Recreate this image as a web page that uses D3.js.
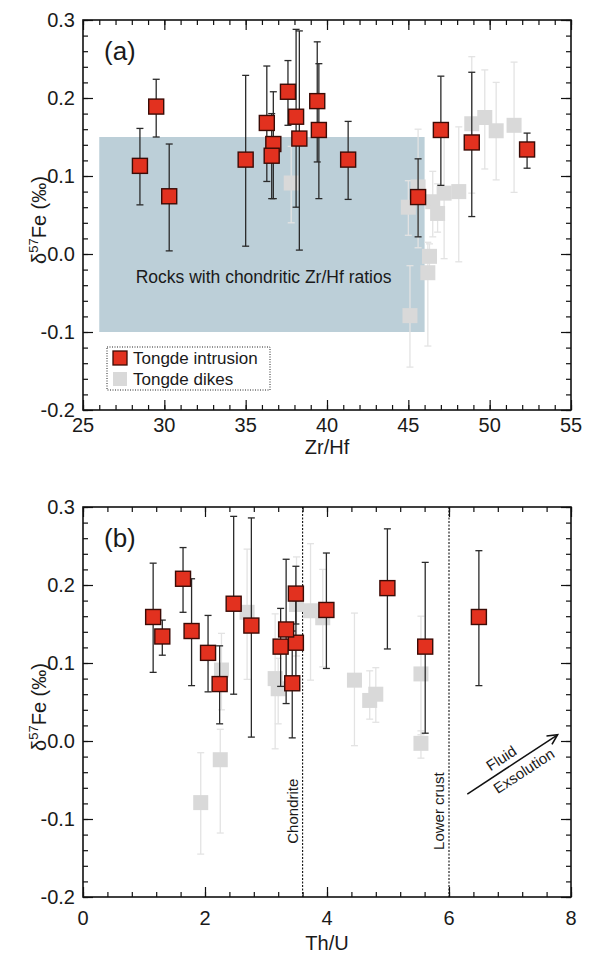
<!DOCTYPE html>
<html><head><meta charset="utf-8">
<script src="https://cdn.jsdelivr.net/npm/d3@7"></script>
<style>body{margin:0;background:#fff}svg{display:block}text{font-family:"Liberation Sans",Arial,sans-serif;fill:#1a1a1a}</style>
</head><body><svg id="c" width="602" height="960"></svg>
<script>
// ---------- DATA ----------
// Tongde intrusion (red)
const intrusionZrHf = [28.5, 29.5, 30.3, 35.0, 36.3, 36.7, 36.6, 37.6, 38.1, 38.3, 39.4, 39.5, 41.3, 45.6, 47.0, 48.9, 52.3];
const intrusionThU  = [2.05, 3.49, 3.43, 5.61, 3.99, 1.78, 3.49, 1.64, 2.47, 2.76, 4.99, 6.49, 3.24, 2.24, 1.15, 3.33, 1.30];
const intrusionD57  = [0.113, 0.189, 0.074, 0.121, 0.168, 0.141, 0.126, 0.208, 0.176, 0.148, 0.196, 0.159, 0.121, 0.073, 0.159, 0.143, 0.134];
const intrusionHi   = [0.161, 0.224, 0.141, 0.229, 0.241, 0.208, 0.180, 0.248, 0.288, 0.286, 0.272, 0.244, 0.170, 0.122, 0.228, 0.233, 0.155];
const intrusionLo   = [0.063, 0.150, 0.004, 0.010, 0.093, 0.071, 0.071, 0.165, 0.060, 0.005, 0.118, 0.071, 0.070, 0.022, 0.088, 0.048, 0.110];
// Tongde dikes (grey)
const dikeZrHf = [45.1, 46.2, 37.8, 51.5, 48.1, 46.5, 49.7, 48.9, 50.4, 47.2, 46.8, 45.0, 45.6, 46.3];
const dikeThU  = [1.93, 2.25, 2.27, 2.69, 3.15, 3.20, 3.50, 3.73, 3.93, 4.45, 4.70, 4.80, 5.54, 5.54];
const dikeD57  = [-0.079, -0.024, 0.091, 0.165, 0.080, 0.067, 0.175, 0.167, 0.158, 0.078, 0.052, 0.060, 0.086, -0.003];
const dikeHi   = [-0.015, 0.015, 0.138, 0.246, 0.163, 0.106, 0.236, 0.253, 0.220, 0.164, 0.090, 0.094, 0.160, 0.013];
const dikeLo   = [-0.145, -0.118, 0.040, 0.079, -0.010, 0.022, 0.109, 0.078, 0.095, -0.006, 0.028, 0.024, 0.008, -0.022];

// chondritic field (panel a)
const chondriticBoxZrHf = [26, 46];
const chondriticBoxD57 = [-0.1, 0.15];
// reference lines (panel b)
const refLinesThU = [3.6, 6.0];
const refLineLabels = ["Chondrite", "Lower crust"];
// fluid exsolution arrow (panel b), data coords
const arrowThU = [6.3, 7.78];
const arrowD57 = [-0.068, 0.008];

// axes
const yTicks = [-0.2, -0.1, 0.0, 0.1, 0.2, 0.3];
const yMinor = d3.range(-0.2, 0.3001, 0.02);
const xTicksA = [25, 30, 35, 40, 45, 50, 55];
const xMinorA = d3.range(25, 55.001, 1);
const xTicksB = [0, 2, 4, 6, 8];
const xMinorB = d3.range(0, 8.001, 0.4);

const RED = "#e2311f", RED_EDGE = "#3b0b06", GREY = "#d9d9d9", GREY_BAR = "#e3e3e3", BAR = "#2a2a2a";
const svg = d3.select("#c");

function panel(o) {
  const g = svg.append("g");
  const x = d3.scaleLinear().domain(o.xDomain).range([o.left, o.right]);
  const y = d3.scaleLinear().domain([-0.2, 0.3]).range([o.bottom, o.top]);
  o.pre && o.pre(g, x, y);

  const sq = 15, cap = 3.5;
  function series(xs, ys, his, los, fill, stroke, barCol, sw) {
    const idx = d3.range(xs.length);
    const eb = g.append("g").attr("stroke", barCol).attr("stroke-width", 1.3);
    idx.forEach(i => {
      const cx = x(xs[i]);
      eb.append("line").attr("x1", cx).attr("x2", cx).attr("y1", y(his[i])).attr("y2", y(los[i]));
      eb.append("line").attr("x1", cx - cap).attr("x2", cx + cap).attr("y1", y(his[i])).attr("y2", y(his[i]));
      eb.append("line").attr("x1", cx - cap).attr("x2", cx + cap).attr("y1", y(los[i])).attr("y2", y(los[i]));
    });
    g.append("g").selectAll("rect").data(idx).join("rect")
      .attr("x", i => x(xs[i]) - sq / 2).attr("y", i => y(ys[i]) - sq / 2)
      .attr("width", sq).attr("height", sq)
      .attr("fill", fill).attr("stroke", stroke).attr("stroke-width", sw);
  }
  series(o.dx, dikeD57, dikeHi, dikeLo, GREY, "none", GREY_BAR, 0);
  series(o.ix, intrusionD57, intrusionHi, intrusionLo, RED, RED_EDGE, BAR, 1.4);

  o.post && o.post(g, x, y);

  // axes (ticks inward on all four sides)
  const mk = (axisFn, scale, vals, len, tr) => {
    const a = g.append("g").attr("transform", tr)
      .call(axisFn(scale).tickValues(vals).tickSize(-len).tickFormat(""));
    a.select(".domain").remove();
    a.selectAll("line").attr("stroke", "#111").attr("stroke-width", 1.2);
  };
  mk(d3.axisBottom, x, o.xMajor, 10, `translate(0,${o.bottom})`);
  mk(d3.axisBottom, x, o.xMinor, 5, `translate(0,${o.bottom})`);
  mk(d3.axisTop, x, o.xMajor, 10, `translate(0,${o.top})`);
  mk(d3.axisTop, x, o.xMinor, 5, `translate(0,${o.top})`);
  mk(d3.axisLeft, y, yTicks, 10, `translate(${o.left},0)`);
  mk(d3.axisLeft, y, yMinor, 5, `translate(${o.left},0)`);
  mk(d3.axisRight, y, yTicks, 10, `translate(${o.right},0)`);
  mk(d3.axisRight, y, yMinor, 5, `translate(${o.right},0)`);

  g.append("rect").attr("x", o.left).attr("y", o.top).attr("width", o.right - o.left)
    .attr("height", o.bottom - o.top).attr("fill", "none").attr("stroke", "#111").attr("stroke-width", 1.6);

  // tick labels
  g.append("g").selectAll("text").data(o.xMajor).join("text")
    .attr("x", d => x(d)).attr("y", o.bottom + o.tickDy).attr("text-anchor", "middle")
    .attr("font-size", 20).text(d => d);
  g.append("g").selectAll("text").data(yTicks).join("text")
    .attr("x", o.left - 8).attr("y", d => y(d)).attr("dy", "0.36em").attr("text-anchor", "end")
    .attr("font-size", 20).text(d => d.toFixed(1));

  // axis titles
  g.append("text").attr("x", (o.left + o.right) / 2).attr("y", o.bottom + o.titleDy)
    .attr("text-anchor", "middle").attr("font-size", 20).text(o.xTitle);
  const yl = g.append("text").attr("transform", `translate(${o.left - 37},${(o.top + o.bottom) / 2 + 5}) rotate(-90)`)
    .attr("text-anchor", "middle").attr("font-size", 20);
  yl.append("tspan").text("δ");
  yl.append("tspan").attr("dy", -8).attr("font-size", 13).text("57");
  yl.append("tspan").attr("dy", 8).text("Fe (‰)");

  g.append("text").attr("x", o.left + 21).attr("y", o.top + 40).attr("font-size", 26).text(o.tag);
}

// Panel (a)
panel({
  xDomain: [25, 55], left: 83, right: 571, top: 20, bottom: 410,
  xMajor: xTicksA, xMinor: xMinorA, xTitle: "Zr/Hf", tag: "(a)", tickDy: 22, titleDy: 44,
  ix: intrusionZrHf, dx: dikeZrHf,
  pre: (g, x, y) => {
    g.append("rect").attr("x", x(chondriticBoxZrHf[0])).attr("y", y(chondriticBoxD57[1]))
      .attr("width", x(chondriticBoxZrHf[1]) - x(chondriticBoxZrHf[0]))
      .attr("height", y(chondriticBoxD57[0]) - y(chondriticBoxD57[1]))
      .attr("fill", "#bccfd8");
    g.append("text").attr("x", x(36.1)).attr("y", y(-0.03) + 6).attr("text-anchor", "middle")
      .attr("font-size", 17.5).text("Rocks with chondritic Zr/Hf ratios");
  },
  post: (g, x, y) => {
    const lg = g.append("g");
    lg.append("rect").attr("x", 107).attr("y", 347).attr("width", 163).attr("height", 43)
      .attr("fill", "#fff").attr("stroke", "#222").attr("stroke-width", 1).attr("stroke-dasharray", "1,1.5");
    lg.append("rect").attr("x", 113).attr("y", 351).attr("width", 14).attr("height", 14)
      .attr("fill", RED).attr("stroke", RED_EDGE).attr("stroke-width", 1.3);
    lg.append("text").attr("x", 133).attr("y", 364).attr("font-size", 17).text("Tongde intrusion");
    lg.append("rect").attr("x", 113).attr("y", 372).attr("width", 14).attr("height", 14).attr("fill", GREY);
    lg.append("text").attr("x", 133).attr("y", 385).attr("font-size", 17).text("Tongde dikes");
  }
});

// Panel (b)
panel({
  xDomain: [0, 8], left: 83, right: 571, top: 507, bottom: 897,
  xMajor: xTicksB, xMinor: xMinorB, xTitle: "Th/U", tag: "(b)", tickDy: 28, titleDy: 53,
  ix: intrusionThU, dx: dikeThU,
  pre: (g, x, y) => {
    refLinesThU.forEach((v, i) => {
      g.append("line").attr("x1", x(v)).attr("x2", x(v)).attr("y1", y(0.3)).attr("y2", y(-0.2))
        .attr("stroke", "#111").attr("stroke-width", 1.1).attr("stroke-dasharray", "2,1.5");
      g.append("text").attr("transform", `translate(${x(v) - 5},${y(-0.09)}) rotate(-90)`)
        .attr("text-anchor", "middle").attr("font-size", 15).text(refLineLabels[i]);
    });
  },
  post: (g, x, y) => {
    const x1 = x(arrowThU[0]), y1 = y(arrowD57[0]), x2 = x(arrowThU[1]), y2 = y(arrowD57[1]);
    const ang = Math.atan2(y2 - y1, x2 - x1) * 180 / Math.PI;
    g.append("line").attr("x1", x1).attr("y1", y1).attr("x2", x2).attr("y2", y2)
      .attr("stroke", "#111").attr("stroke-width", 1.5);
    g.append("path").attr("transform", `translate(${x2},${y2}) rotate(${ang})`)
      .attr("d", "M-10,-5 L0,0 L-10,5").attr("fill", "none").attr("stroke", "#111").attr("stroke-width", 1.6);
    const mx = (x1 + x2) / 2, my = (y1 + y2) / 2;
    g.append("text").attr("transform", `translate(${mx},${my}) rotate(${ang}) translate(-6,-6)`)
      .attr("text-anchor", "middle").attr("font-size", 15).text("Fluid");
    g.append("text").attr("transform", `translate(${mx},${my}) rotate(${ang}) translate(6,17)`)
      .attr("text-anchor", "middle").attr("font-size", 15).text("Exsolution");
  }
});
</script></body></html>
